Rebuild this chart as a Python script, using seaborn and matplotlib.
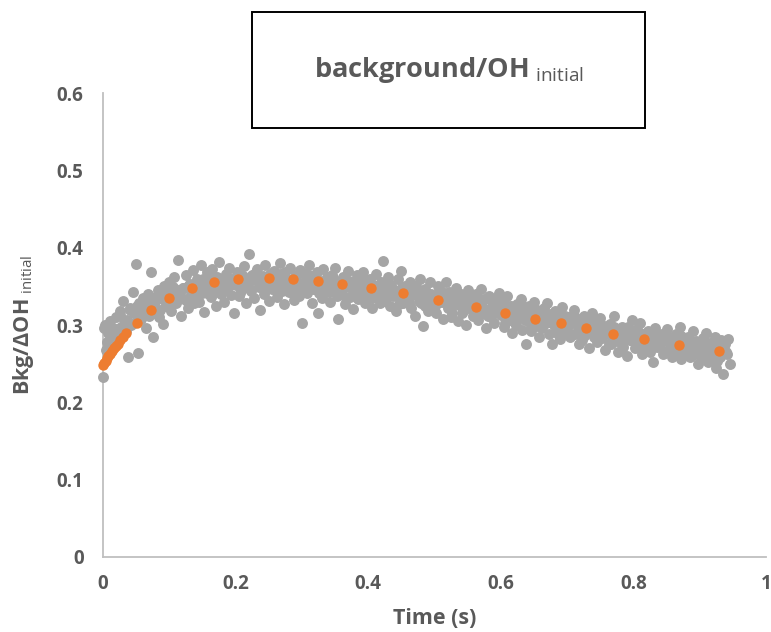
import numpy as np
import matplotlib
matplotlib.use('Agg')
import matplotlib.pyplot as plt
import seaborn as sns
from matplotlib.patches import Rectangle

# ── Data ──────────────────────────────────────────────────────────────────────
GRAY_TIME = [
    0.0000, 0.0025, 0.0050, 0.0075, 0.0100, 0.0125, 0.0150, 0.0175,
    0.0200, 0.0225, 0.0250, 0.0275, 0.0300, 0.0325, 0.0350, 0.0375,
    0.0400, 0.0425, 0.0450, 0.0475, 0.0500, 0.0525, 0.0550, 0.0575,
    0.0600, 0.0625, 0.0650, 0.0675, 0.0700, 0.0725, 0.0750, 0.0775,
    0.0800, 0.0825, 0.0850, 0.0875, 0.0900, 0.0925, 0.0950, 0.0975,
    0.1000, 0.1025, 0.1050, 0.1075, 0.1100, 0.1125, 0.1150, 0.1175,
    0.1200, 0.1225, 0.1250, 0.1275, 0.1300, 0.1325, 0.1350, 0.1375,
    0.1400, 0.1425, 0.1450, 0.1475, 0.1500, 0.1525, 0.1550, 0.1575,
    0.1600, 0.1625, 0.1650, 0.1675, 0.1700, 0.1725, 0.1750, 0.1775,
    0.1800, 0.1825, 0.1850, 0.1875, 0.1900, 0.1925, 0.1950, 0.1975,
    0.2000, 0.2025, 0.2050, 0.2075, 0.2100, 0.2125, 0.2150, 0.2175,
    0.2200, 0.2225, 0.2250, 0.2275, 0.2300, 0.2325, 0.2350, 0.2375,
    0.2400, 0.2425, 0.2450, 0.2475, 0.2500, 0.2525, 0.2550, 0.2575,
    0.2600, 0.2625, 0.2650, 0.2675, 0.2700, 0.2725, 0.2750, 0.2775,
    0.2800, 0.2825, 0.2850, 0.2875, 0.2900, 0.2925, 0.2950, 0.2975,
    0.3000, 0.3025, 0.3050, 0.3075, 0.3100, 0.3125, 0.3150, 0.3175,
    0.3200, 0.3225, 0.3250, 0.3275, 0.3300, 0.3325, 0.3350, 0.3375,
    0.3400, 0.3425, 0.3450, 0.3475, 0.3500, 0.3525, 0.3550, 0.3575,
    0.3600, 0.3625, 0.3650, 0.3675, 0.3700, 0.3725, 0.3750, 0.3775,
    0.3800, 0.3825, 0.3850, 0.3875, 0.3900, 0.3925, 0.3950, 0.3975,
    0.4000, 0.4025, 0.4050, 0.4075, 0.4100, 0.4125, 0.4150, 0.4175,
    0.4200, 0.4225, 0.4250, 0.4275, 0.4300, 0.4325, 0.4350, 0.4375,
    0.4400, 0.4425, 0.4450, 0.4475, 0.4500, 0.4525, 0.4550, 0.4575,
    0.4600, 0.4625, 0.4650, 0.4675, 0.4700, 0.4725, 0.4750, 0.4775,
    0.4800, 0.4825, 0.4850, 0.4875, 0.4900, 0.4925, 0.4950, 0.4975,
    0.5000, 0.5025, 0.5050, 0.5075, 0.5100, 0.5125, 0.5150, 0.5175,
    0.5200, 0.5225, 0.5250, 0.5275, 0.5300, 0.5325, 0.5350, 0.5375,
    0.5400, 0.5425, 0.5450, 0.5475, 0.5500, 0.5525, 0.5550, 0.5575,
    0.5600, 0.5625, 0.5650, 0.5675, 0.5700, 0.5725, 0.5750, 0.5775,
    0.5800, 0.5825, 0.5850, 0.5875, 0.5900, 0.5925, 0.5950, 0.5975,
    0.6000, 0.6025, 0.6050, 0.6075, 0.6100, 0.6125, 0.6150, 0.6175,
    0.6200, 0.6225, 0.6250, 0.6275, 0.6300, 0.6325, 0.6350, 0.6375,
    0.6400, 0.6425, 0.6450, 0.6475, 0.6500, 0.6525, 0.6550, 0.6575,
    0.6600, 0.6625, 0.6650, 0.6675, 0.6700, 0.6725, 0.6750, 0.6775,
    0.6800, 0.6825, 0.6850, 0.6875, 0.6900, 0.6925, 0.6950, 0.6975,
    0.7000, 0.7025, 0.7050, 0.7075, 0.7100, 0.7125, 0.7150, 0.7175,
    0.7200, 0.7225, 0.7250, 0.7275, 0.7300, 0.7325, 0.7350, 0.7375,
    0.7400, 0.7425, 0.7450, 0.7475, 0.7500, 0.7525, 0.7550, 0.7575,
    0.7600, 0.7625, 0.7650, 0.7675, 0.7700, 0.7725, 0.7750, 0.7775,
    0.7800, 0.7825, 0.7850, 0.7875, 0.7900, 0.7925, 0.7950, 0.7975,
    0.8000, 0.8025, 0.8050, 0.8075, 0.8100, 0.8125, 0.8150, 0.8175,
    0.8200, 0.8225, 0.8250, 0.8275, 0.8300, 0.8325, 0.8350, 0.8375,
    0.8400, 0.8425, 0.8450, 0.8475, 0.8500, 0.8525, 0.8550, 0.8575,
    0.8600, 0.8625, 0.8650, 0.8675, 0.8700, 0.8725, 0.8750, 0.8775,
    0.8800, 0.8825, 0.8850, 0.8875, 0.8900, 0.8925, 0.8950, 0.8975,
    0.9000, 0.9025, 0.9050, 0.9075, 0.9100, 0.9125, 0.9150, 0.9175,
    0.9200, 0.9225, 0.9250, 0.9275, 0.9300, 0.9325, 0.9350, 0.9375,
    0.9400, 0.9425, 0.9450,
    0.00125, 0.00625, 0.01125, 0.01625, 0.02125, 0.02625, 0.03125, 0.03625,
    0.04125, 0.04625, 0.05125, 0.05625, 0.06125, 0.06625, 0.07125, 0.07625,
    0.08125, 0.08625, 0.09125, 0.09625, 0.10125, 0.10625, 0.11125, 0.11625,
    0.12125, 0.12625, 0.13125, 0.13625, 0.14125, 0.14625, 0.15125, 0.15625,
    0.16125, 0.16625, 0.17125, 0.17625, 0.18125, 0.18625, 0.19125, 0.19625,
    0.20125, 0.20625, 0.21125, 0.21625, 0.22125, 0.22625, 0.23125, 0.23625,
    0.24125, 0.24625, 0.25125, 0.25625, 0.26125, 0.26625, 0.27125, 0.27625,
    0.28125, 0.28625, 0.29125, 0.29625, 0.30125, 0.30625, 0.31125, 0.31625,
    0.32125, 0.32625, 0.33125, 0.33625, 0.34125, 0.34625, 0.35125, 0.35625,
    0.36125, 0.36625, 0.37125, 0.37625, 0.38125, 0.38625, 0.39125, 0.39625,
    0.40125, 0.40625, 0.41125, 0.41625, 0.42125, 0.42625, 0.43125, 0.43625,
    0.44125, 0.44625, 0.45125, 0.45625, 0.46125, 0.46625, 0.47125, 0.47625,
    0.48125, 0.48625, 0.49125, 0.49625, 0.50125, 0.50625, 0.51125, 0.51625,
    0.52125, 0.52625, 0.53125, 0.53625, 0.54125, 0.54625, 0.55125, 0.55625,
    0.56125, 0.56625, 0.57125, 0.57625, 0.58125, 0.58625, 0.59125, 0.59625,
    0.60125, 0.60625, 0.61125, 0.61625, 0.62125, 0.62625, 0.63125, 0.63625,
    0.64125, 0.64625, 0.65125, 0.65625, 0.66125, 0.66625, 0.67125, 0.67625,
    0.68125, 0.68625, 0.69125, 0.69625, 0.70125, 0.70625, 0.71125, 0.71625,
    0.72125, 0.72625, 0.73125, 0.73625, 0.74125, 0.74625, 0.75125, 0.75625,
    0.76125, 0.76625, 0.77125, 0.77625, 0.78125, 0.78625, 0.79125, 0.79625,
    0.80125, 0.80625, 0.81125, 0.81625, 0.82125, 0.82625, 0.83125, 0.83625,
    0.84125, 0.84625, 0.85125, 0.85625, 0.86125, 0.86625, 0.87125, 0.87625,
    0.88125, 0.88625, 0.89125, 0.89625, 0.90125, 0.90625, 0.91125, 0.91625,
    0.92125, 0.92625, 0.93125, 0.93625, 0.94125,
]

GRAY_VALUE = [
    0.233, 0.300, 0.268, 0.290, 0.305, 0.276, 0.296, 0.283,
    0.310, 0.288, 0.318, 0.297, 0.331, 0.305, 0.292, 0.259,
    0.322, 0.300, 0.343, 0.315, 0.379, 0.264, 0.328, 0.308,
    0.335, 0.318, 0.296, 0.340, 0.312, 0.369, 0.285, 0.327,
    0.332, 0.345, 0.310, 0.338, 0.301, 0.350, 0.324, 0.341,
    0.356, 0.318, 0.336, 0.362, 0.329, 0.384, 0.345, 0.312,
    0.348, 0.333, 0.365, 0.322, 0.352, 0.340, 0.371, 0.328,
    0.345, 0.360, 0.330, 0.378, 0.342, 0.317, 0.355, 0.368,
    0.350, 0.336, 0.372, 0.345, 0.325, 0.362, 0.381, 0.340,
    0.356, 0.330, 0.366, 0.348, 0.374, 0.339, 0.360, 0.315,
    0.352, 0.369, 0.338, 0.361, 0.346, 0.376, 0.328, 0.357,
    0.392, 0.344, 0.365, 0.335, 0.358, 0.372, 0.349, 0.320,
    0.361, 0.340, 0.377, 0.353, 0.331, 0.366, 0.347, 0.370,
    0.357, 0.336, 0.362, 0.380, 0.344, 0.327, 0.368, 0.351,
    0.343, 0.374, 0.358, 0.332, 0.364, 0.349, 0.338, 0.371,
    0.302, 0.355, 0.366, 0.341, 0.377, 0.350, 0.329, 0.360,
    0.346, 0.368, 0.316, 0.357, 0.335, 0.372, 0.343, 0.362,
    0.352, 0.330, 0.365, 0.345, 0.374, 0.338, 0.308, 0.356,
    0.341, 0.362, 0.327, 0.350, 0.370, 0.336, 0.355, 0.321,
    0.348, 0.365, 0.333, 0.357, 0.342, 0.368, 0.329, 0.351,
    0.339, 0.360, 0.322, 0.352, 0.336, 0.366, 0.345, 0.328,
    0.355, 0.383, 0.331, 0.347, 0.362, 0.325, 0.352, 0.338,
    0.344, 0.318, 0.359, 0.335, 0.370, 0.328, 0.350, 0.341,
    0.333, 0.356, 0.322, 0.345, 0.312, 0.350, 0.337, 0.360,
    0.328, 0.299, 0.346, 0.334, 0.318, 0.355, 0.340, 0.325,
    0.338, 0.316, 0.350, 0.330, 0.344, 0.308, 0.335, 0.356,
    0.322, 0.343, 0.311, 0.336, 0.327, 0.348, 0.305, 0.331,
    0.340, 0.318, 0.332, 0.300, 0.345, 0.325, 0.337, 0.312,
    0.328, 0.340, 0.306, 0.322, 0.346, 0.315, 0.333, 0.296,
    0.320, 0.338, 0.310, 0.328, 0.302, 0.335, 0.317, 0.341,
    0.313, 0.330, 0.298, 0.322, 0.338, 0.306, 0.325, 0.290,
    0.318, 0.300, 0.327, 0.311, 0.334, 0.294, 0.316, 0.275,
    0.306, 0.324, 0.292, 0.313, 0.330, 0.299, 0.319, 0.285,
    0.310, 0.296, 0.322, 0.303, 0.328, 0.288, 0.314, 0.276,
    0.300, 0.318, 0.291, 0.308, 0.282, 0.323, 0.297, 0.312,
    0.295, 0.310, 0.284, 0.303, 0.320, 0.289, 0.306, 0.275,
    0.298, 0.281, 0.312, 0.293, 0.305, 0.270, 0.300, 0.316,
    0.287, 0.304, 0.278, 0.296, 0.309, 0.283, 0.299, 0.268,
    0.292, 0.276, 0.301, 0.285, 0.312, 0.279, 0.295, 0.265,
    0.283, 0.298, 0.271, 0.289, 0.260, 0.294, 0.280, 0.306,
    0.286, 0.270, 0.295, 0.278, 0.303, 0.262, 0.289, 0.275,
    0.278, 0.292, 0.265, 0.284, 0.252, 0.296, 0.272, 0.287,
    0.275, 0.289, 0.262, 0.281, 0.295, 0.268, 0.283, 0.258,
    0.279, 0.264, 0.288, 0.271, 0.298, 0.256, 0.282, 0.268,
    0.270, 0.285, 0.258, 0.276, 0.292, 0.262, 0.279, 0.249,
    0.274, 0.259, 0.283, 0.266, 0.290, 0.252, 0.277, 0.263,
    0.268, 0.284, 0.244, 0.272, 0.258, 0.280, 0.236, 0.275,
    0.265, 0.282, 0.250,
    0.296, 0.278, 0.290, 0.284, 0.295, 0.313, 0.301, 0.307,
    0.319, 0.302, 0.324, 0.313, 0.313, 0.325, 0.334, 0.316,
    0.338, 0.320, 0.332, 0.326, 0.331, 0.349, 0.337, 0.343,
    0.348, 0.331, 0.353, 0.342, 0.339, 0.351, 0.360, 0.342,
    0.359, 0.341, 0.353, 0.347, 0.346, 0.364, 0.352, 0.358,
    0.359, 0.342, 0.364, 0.353, 0.347, 0.359, 0.368, 0.350,
    0.364, 0.346, 0.358, 0.352, 0.348, 0.366, 0.354, 0.360,
    0.358, 0.341, 0.363, 0.352, 0.344, 0.356, 0.365, 0.347,
    0.360, 0.342, 0.354, 0.348, 0.343, 0.361, 0.349, 0.355,
    0.352, 0.335, 0.357, 0.346, 0.337, 0.349, 0.358, 0.340,
    0.353, 0.335, 0.347, 0.341, 0.335, 0.353, 0.341, 0.347,
    0.344, 0.327, 0.349, 0.338, 0.328, 0.340, 0.349, 0.331,
    0.342, 0.324, 0.336, 0.330, 0.324, 0.342, 0.330, 0.336,
    0.332, 0.315, 0.337, 0.326, 0.316, 0.328, 0.337, 0.319,
    0.330, 0.312, 0.324, 0.318, 0.312, 0.330, 0.318, 0.324,
    0.319, 0.302, 0.324, 0.313, 0.303, 0.315, 0.324, 0.306,
    0.317, 0.299, 0.311, 0.305, 0.298, 0.316, 0.304, 0.310,
    0.306, 0.289, 0.311, 0.300, 0.290, 0.302, 0.311, 0.293,
    0.304, 0.286, 0.298, 0.292, 0.285, 0.303, 0.291, 0.297,
    0.293, 0.276, 0.298, 0.287, 0.277, 0.289, 0.298, 0.280,
    0.291, 0.273, 0.285, 0.279, 0.273, 0.291, 0.279, 0.285,
    0.281, 0.264, 0.286, 0.275, 0.265, 0.277, 0.286, 0.268,
    0.279, 0.261, 0.273, 0.267, 0.262, 0.280, 0.268, 0.274,
    0.271, 0.254, 0.276, 0.265, 0.262,
]

ORANGE_TIME = [0.000, 0.002, 0.004, 0.006, 0.008, 0.010, 0.013, 0.016,
               0.019, 0.022, 0.026, 0.030, 0.035, 0.051, 0.072, 0.100,
               0.134, 0.168, 0.204, 0.250, 0.287, 0.325, 0.361, 0.404,
               0.452, 0.506, 0.562, 0.607, 0.651, 0.691, 0.729, 0.769,
               0.816, 0.869, 0.929]
ORANGE_VALUE = [0.248, 0.251, 0.254, 0.257, 0.260, 0.263, 0.266, 0.270,
                0.273, 0.276, 0.280, 0.284, 0.290, 0.302, 0.320, 0.335,
                0.348, 0.356, 0.360, 0.361, 0.360, 0.357, 0.353, 0.348,
                0.341, 0.332, 0.323, 0.316, 0.308, 0.303, 0.296, 0.289,
                0.282, 0.274, 0.266]

X_TICKS = [0, 0.2, 0.4, 0.6, 0.8, 1]
X_TICK_LABELS = ['0', '0.2', '0.4', '0.6', '0.8', '1']
Y_TICKS = [0, 0.1, 0.2, 0.3, 0.4, 0.5, 0.6]
Y_TICK_LABELS = ['0', '0.1', '0.2', '0.3', '0.4', '0.5', '0.6']

# ── Style ─────────────────────────────────────────────────────────────────────
sns.set_theme(style='white')
plt.rcParams['font.family'] = ['Open Sans', 'DejaVu Sans']
plt.rcParams['mathtext.fontset'] = 'custom'
plt.rcParams['mathtext.rm'] = 'Open Sans'
plt.rcParams['mathtext.bf'] = 'Open Sans:bold'

TEXT = '#595959'
GRAY = '#a5a5a5'
ORANGE = '#ed7d31'
AXIS = '#bfbfbf'

fig = plt.figure(figsize=(7.71, 6.32), dpi=100)
ax = fig.add_axes([0.1336, 0.1187, 0.8599, 0.7341])

sns.scatterplot(x=GRAY_TIME, y=GRAY_VALUE, color=GRAY, s=62, linewidth=0,
                alpha=1, ax=ax, clip_on=False, zorder=3)
sns.scatterplot(x=ORANGE_TIME, y=ORANGE_VALUE, color=ORANGE, s=56, linewidth=0,
                alpha=1, ax=ax, clip_on=False, zorder=4)

ax.set_xlim(0, 1)
ax.set_ylim(0, 0.6)
ax.set_xticks(X_TICKS)
ax.set_xticklabels(X_TICK_LABELS)
ax.set_yticks(Y_TICKS)
ax.set_yticklabels(Y_TICK_LABELS)
ax.tick_params(axis='both', length=0, labelsize=13.5, labelcolor=TEXT)
ax.tick_params(axis='x', pad=12)
ax.tick_params(axis='y', pad=14)
for lbl in ax.get_xticklabels() + ax.get_yticklabels():
    lbl.set_fontweight('bold')

for side in ['top', 'right']:
    ax.spines[side].set_visible(False)
for side in ['left', 'bottom']:
    ax.spines[side].set_color(AXIS)
    ax.spines[side].set_linewidth(1.3)

ax.set_xlabel('Time (s)', fontsize=15.5, fontweight='bold', color=TEXT, labelpad=10)
ax.set_ylabel('Bkg/ΔOH$_{\\ \\mathrm{initial}}$', fontsize=15.5, fontweight='bold',
              color=TEXT, labelpad=15)

# title box
fig.patches.append(Rectangle((0.327, 0.797), 0.510, 0.184, transform=fig.transFigure,
                             facecolor='white', edgecolor='black', linewidth=1.4,
                             zorder=10))
fig.text(0.583, 0.889, 'background/OH$_{\\ \\mathrm{initial}}$', fontsize=19.5,
         fontweight='bold', color=TEXT, ha='center', va='center', zorder=11)

fig.savefig('out.png', dpi=100)
